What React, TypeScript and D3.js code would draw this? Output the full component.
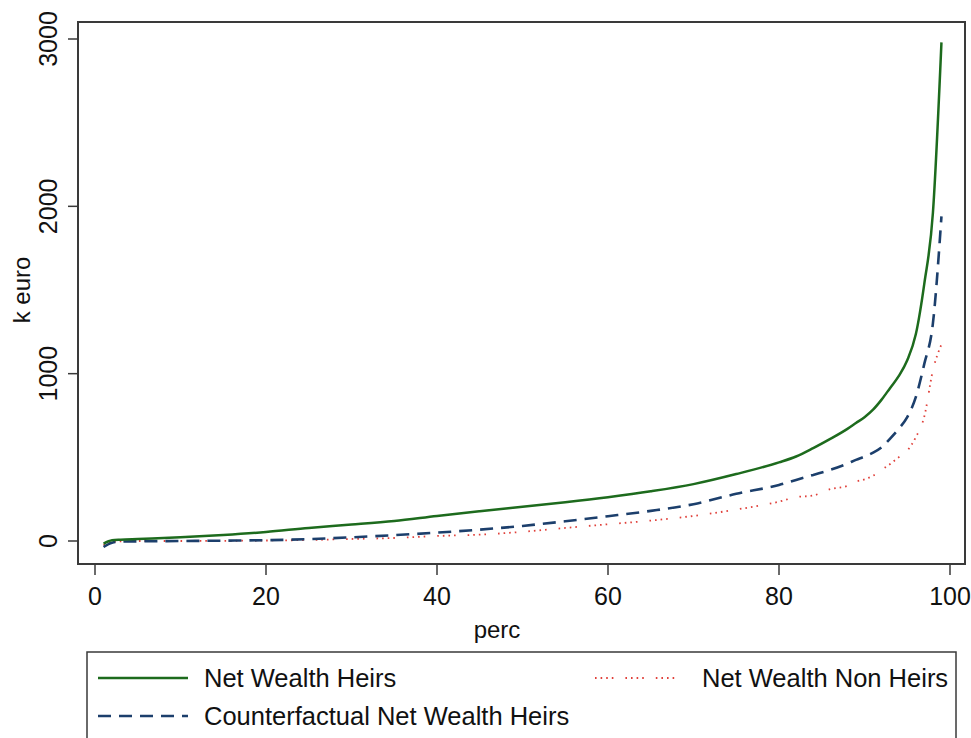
import * as d3 from 'd3'
import React from 'react'

const percs = [1, 2, 3, 5, 10, 15, 20, 25, 30, 35, 40, 45, 50, 55, 60, 65, 70, 75, 80, 82, 84, 86, 88, 89, 90, 91, 92, 93, 94, 95, 96, 97, 98, 99]
// k euro
const heirs = [-15, 4, 8, 12, 22, 36, 54, 78, 98, 120, 150, 178, 205, 232, 262, 297, 340, 400, 470, 505, 555, 610, 670, 705, 740, 785, 845, 915, 985, 1080, 1235, 1540, 1960, 2980]
const counterfactual = [-36, -10, -4, -2, 0, 2, 5, 11, 22, 35, 50, 68, 90, 118, 148, 180, 220, 282, 335, 365, 395, 425, 462, 485, 505, 528, 560, 612, 670, 740, 860, 1060, 1300, 1940]
const nonHeirs = [-25, -6, -2, 0, 0, 1, 3, 6, 12, 18, 30, 38, 55, 78, 100, 122, 150, 188, 235, 262, 272, 310, 330, 355, 368, 390, 425, 460, 500, 540, 620, 745, 1020, 1175]

const xTicks = [0, 20, 40, 60, 80, 100]
const yTicks = [0, 1000, 2000, 3000]

const series = [
  { name: 'Net Wealth Heirs', values: heirs, color: '#1d6b1d', dash: undefined as string | undefined, width: 2.5 },
  { name: 'Counterfactual Net Wealth Heirs', values: counterfactual, color: '#1c3f6c', dash: '13 8', width: 2.6 },
  { name: 'Net Wealth Non Heirs', values: nonHeirs, color: '#e0403a', dash: '1.6 4 1.6 4 1.6 4 1.6 12', width: 1.8 },
]

const W = 971, H = 738
const font = '"Liberation Sans", Arial, sans-serif'

export default function App() {
  const
    frame = { left: 78, top: 22, right: 965, bottom: 564 },
    x = d3.scaleLinear().domain([0, 100]).range([95, 950]),
    y = d3.scaleLinear().domain([0, 3000]).range([541, 39])

  const mkLine = (vals: number[]) => d3.line<number>()
    .x((_, i) => x(percs[i]))
    .y(d => y(d))
    .curve(d3.curveMonotoneX)(vals) as string

  const legendRows = [
    { s: series[0], lx: 98, tx: 204, cy: 678 },
    { s: series[2], lx: 595, tx: 702, cy: 678 },
    { s: series[1], lx: 98, tx: 204, cy: 716 },
  ]

  return (
    <svg width={W} height={H} style={{ position: 'absolute', left: 0, top: 0, background: '#fff' }} fontFamily={font}>
      <rect x={0} y={0} width={W} height={H} fill='#fff' />
      {/* plot frame */}
      <rect x={frame.left} y={frame.top} width={frame.right - frame.left} height={frame.bottom - frame.top}
        fill='#fff' stroke='#3a3a3a' strokeWidth={2} />

      {/* y axis */}
      {yTicks.map(t => (
        <g key={'y' + t}>
          <line x1={frame.left - 10} x2={frame.left} y1={y(t)} y2={y(t)} stroke='#3a3a3a' strokeWidth={1.5} />
          <text transform={`translate(57,${y(t)}) rotate(-90)`} textAnchor='middle' fontSize={25} fill='#111'>{t}</text>
        </g>
      ))}
      <text transform={`translate(30,290) rotate(-90)`} textAnchor='middle' fontSize={24} fill='#111'>k euro</text>

      {/* x axis */}
      {xTicks.map(t => (
        <g key={'x' + t}>
          <line x1={x(t)} x2={x(t)} y1={frame.bottom} y2={frame.bottom + 11} stroke='#3a3a3a' strokeWidth={1.5} />
          <text x={x(t)} y={605} textAnchor='middle' fontSize={25} fill='#111'>{t}</text>
        </g>
      ))}
      <text x={497} y={638} textAnchor='middle' fontSize={24} fill='#111'>perc</text>

      {/* lines */}
      {[series[2], series[1], series[0]].map(s => (
        <path key={s.name} d={mkLine(s.values)} fill='none' stroke={s.color} strokeWidth={s.width}
          strokeDasharray={s.dash} strokeLinejoin='round' />
      ))}

      {/* legend */}
      <rect x={87} y={652} width={869} height={110} fill='#fff' stroke='#3a3a3a' strokeWidth={1.5} />
      {legendRows.map(r => (
        <g key={r.s.name}>
          <line x1={r.lx} x2={r.lx + 90} y1={r.cy} y2={r.cy} stroke={r.s.color} strokeWidth={r.s.width}
            strokeDasharray={r.s.dash} />
          <text x={r.tx} y={r.cy + 9} fontSize={25.5} fill='#111'>{r.s.name}</text>
        </g>
      ))}
    </svg>
  )
}
